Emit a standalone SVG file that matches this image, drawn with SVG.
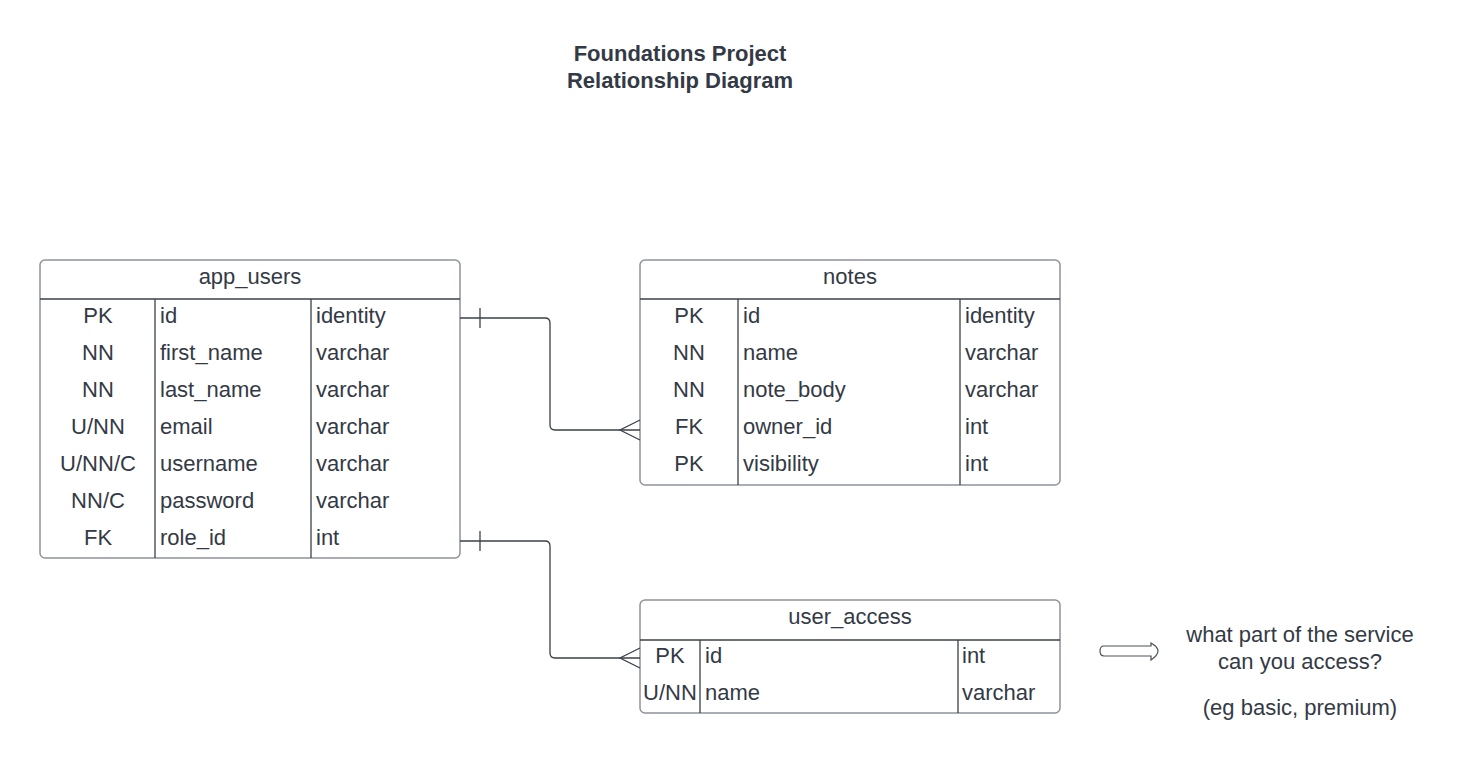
<svg xmlns="http://www.w3.org/2000/svg" width="1460" height="781" viewBox="0 0 1460 781">
<style>
text{font-family:"Liberation Sans",Arial,sans-serif;fill:#333a45;font-size:22px}
.t{font-weight:bold;text-anchor:middle}
.c{text-anchor:middle}
.box{fill:#fff;stroke:#8f939a;stroke-width:1.5}
.ln{stroke:#3a414a;stroke-width:1.3;fill:none}
</style>
<rect width="1460" height="781" fill="#fff"/>
<g id="title">
<text class="t" x="680" y="61">Foundations Project</text>
<text class="t" x="680" y="88">Relationship Diagram</text>
</g>
<g id="app_users">
<rect class="box" x="40" y="260" width="420" height="298" rx="5"/>
<line class="ln" x1="40" y1="299" x2="460" y2="299"/>
<line class="ln" x1="155" y1="299" x2="155" y2="558"/>
<line class="ln" x1="311" y1="299" x2="311" y2="558"/>
<text class="c" x="250" y="284">app_users</text>
<text class="c" x="98" y="323">PK</text><text x="160" y="323">id</text><text x="316" y="323">identity</text>
<text class="c" x="98" y="360">NN</text><text x="160" y="360">first_name</text><text x="316" y="360">varchar</text>
<text class="c" x="98" y="397">NN</text><text x="160" y="397">last_name</text><text x="316" y="397">varchar</text>
<text class="c" x="98" y="434">U/NN</text><text x="160" y="434">email</text><text x="316" y="434">varchar</text>
<text class="c" x="98" y="471">U/NN/C</text><text x="160" y="471">username</text><text x="316" y="471">varchar</text>
<text class="c" x="98" y="508">NN/C</text><text x="160" y="508">password</text><text x="316" y="508">varchar</text>
<text class="c" x="98" y="545">FK</text><text x="160" y="545">role_id</text><text x="316" y="545">int</text>
</g>
<g id="notes">
<rect class="box" x="640" y="260" width="420" height="225" rx="5"/>
<line class="ln" x1="640" y1="299" x2="1060" y2="299"/>
<line class="ln" x1="738" y1="299" x2="738" y2="485"/>
<line class="ln" x1="960" y1="299" x2="960" y2="485"/>
<text class="c" x="850" y="284">notes</text>
<text class="c" x="689" y="323">PK</text><text x="743" y="323">id</text><text x="965" y="323">identity</text>
<text class="c" x="689" y="360">NN</text><text x="743" y="360">name</text><text x="965" y="360">varchar</text>
<text class="c" x="689" y="397">NN</text><text x="743" y="397">note_body</text><text x="965" y="397">varchar</text>
<text class="c" x="689" y="434">FK</text><text x="743" y="434">owner_id</text><text x="965" y="434">int</text>
<text class="c" x="689" y="471">PK</text><text x="743" y="471">visibility</text><text x="965" y="471">int</text>
</g>
<g id="user_access">
<rect class="box" x="640" y="600" width="420" height="113" rx="5"/>
<line class="ln" x1="640" y1="640" x2="1060" y2="640"/>
<line class="ln" x1="700" y1="640" x2="700" y2="713"/>
<line class="ln" x1="958" y1="640" x2="958" y2="713"/>
<text class="c" x="850" y="624">user_access</text>
<text class="c" x="670" y="663">PK</text><text x="705" y="663">id</text><text x="962" y="663">int</text>
<text class="c" x="670" y="700">U/NN</text><text x="705" y="700">name</text><text x="962" y="700">varchar</text>
</g>
<g id="connectors">
<path class="ln" d="M460,318 H545 Q550,318 550,323 V425 Q550,430 555,430 H640"/>
<line class="ln" x1="480" y1="308" x2="480" y2="328"/>
<path class="ln" d="M640,420 L620,430 L640,440"/>
<path class="ln" d="M460,541 H545 Q550,541 550,546 V653 Q550,658 555,658 H640"/>
<line class="ln" x1="480" y1="531" x2="480" y2="551"/>
<path class="ln" d="M640,648 L620,658 L640,668"/>
</g>
<g id="note_arrow">
<path d="M1104,646 H1151 L1151,643 Q1158,647 1158,651 Q1158,655 1151,660 L1151,656 H1104 Q1100,656 1100,651 Q1100,646 1104,646 Z" fill="#fff" stroke="#4a5059" stroke-width="1.2"/>
</g>
<g id="note_text">
<text class="c" x="1300" y="642">what part of the service</text>
<text class="c" x="1300" y="669">can you access?</text>
<text class="c" x="1300" y="715">(eg basic, premium)</text>
</g>
</svg>
